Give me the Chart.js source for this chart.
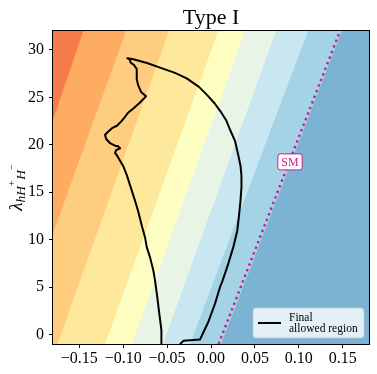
<!DOCTYPE html>
<html>
<head>
<meta charset="utf-8">
<script src="https://cdn.jsdelivr.net/npm/chart.js@4/dist/chart.umd.min.js"></script>
<style>
  html, body { margin: 0; padding: 0; background: #fff; }
  canvas { display: block; }
</style>
</head>
<body>
<canvas id="c" width="377" height="374"></canvas>
<script>
// ---------- data ----------
const chartTitle = 'Type I';
const xMin = -0.18, xMax = 0.18;
const yMin = -1, yMax = 32;

const xTickValues = [-0.15, -0.10, -0.05, 0.00, 0.05, 0.10, 0.15];
const xTickLabels = ['\u22120.15', '\u22120.10', '\u22120.05', '0.00', '0.05', '0.10', '0.15'];
const yTickValues = [0, 5, 10, 15, 20, 25, 30];
const yTickLabels = ['0', '5', '10', '15', '20', '25', '30'];

// contour band boundaries: x at y = yMax (top) and at y = yMin (bottom)
const bandTopX    = [-0.1454, -0.0968, -0.0478, 0.0083, 0.0387, 0.0740, 0.1105, 0.1490];
const bandBottomX = [-0.2674, -0.2255, -0.1748, -0.1207, -0.0900, -0.0547, -0.0239, 0.0115];
const bandColors  = ['#f57b4a', '#fdac62', '#fecd80', '#fee89b', '#fefec3',
                     '#e8f5e6', '#c9e7f0', '#a5d3e6', '#7bb3d5'];

// SM line
const smX = [0.0087, 0.1470];
const smY = [-1, 32];
const smLabel = 'SM';
const smLabelX = 0.090, smLabelY = 18.2;

// final allowed region contour
const curveLabel = ['Final', 'allowed region'];
const curveX = [
  -0.0561, -0.0561, -0.0569, -0.0589, -0.0612, -0.0638, -0.0657, -0.0695, -0.0732, -0.0752,
  -0.0786, -0.0826, -0.0866, -0.0917, -0.0957, -0.1002, -0.1036, -0.1076, -0.1093, -0.1082,
  -0.1036, -0.1059, -0.1093, -0.1150, -0.1196, -0.1207, -0.1173, -0.1128, -0.1071, -0.1017,
  -0.0980, -0.0945, -0.0888, -0.0809, -0.0740, -0.0797, -0.0831, -0.0846, -0.0846, -0.0877,
  -0.0915, -0.0923, -0.0953,
  -0.0885, -0.0729, -0.0581, -0.0410, -0.0277, -0.0137, -0.0046, 0.0040, 0.0108, 0.0176,
  0.0222, 0.0273, 0.0308, 0.0336, 0.0347, 0.0347, 0.0336, 0.0319, 0.0300, 0.0254,
  0.0197, 0.0133, 0.0103, 0.0046, -0.0031, -0.0125, -0.0315, -0.0345, -0.0347
];
const curveY = [
  -1.34, -0.95, 0.45, 2.21, 3.95, 5.71, 6.76, 8.16, 9.21, 10.26,
  11.39, 12.86, 14.12, 15.59, 16.75, 17.80, 18.33, 18.96, 19.12, 19.43,
  19.64, 19.85, 19.91, 20.17, 20.64, 21.06, 21.38, 21.75, 22.01, 22.53,
  22.95, 23.38, 23.80, 24.46, 25.11, 25.58, 26.32, 26.95, 28.00, 28.42,
  28.66, 28.95, 29.13,
  29.02, 28.63, 28.14, 27.58, 27.00, 26.11, 25.27, 24.38, 23.53, 22.53,
  21.48, 20.43, 19.03, 17.80, 16.75, 15.52, 14.12, 12.54, 10.97, 9.21,
  7.47, 5.71, 5.01, 3.26, 1.32, -0.53, -0.67, -0.95, -1.34
];

// ---------- build datasets ----------
const FAR = 1; // beyond the axis range, clipped away
const datasets = [];

// background band (left of everything)
datasets.push({
  data: [{x: -FAR, y: yMax}, {x: FAR, y: yMax}, {x: FAR, y: yMin}, {x: -FAR, y: yMin}],
  showLine: true, fill: 'shape', backgroundColor: bandColors[0],
  borderColor: 'rgba(0,0,0,0)', borderWidth: 0, pointRadius: 0, pointHoverRadius: 0,
  order: 100
});
for (let i = 0; i < bandTopX.length; i++) {
  datasets.push({
    data: [{x: bandTopX[i], y: yMax}, {x: FAR, y: yMax}, {x: FAR, y: yMin}, {x: bandBottomX[i], y: yMin}],
    showLine: true, fill: 'shape', backgroundColor: bandColors[i + 1],
    borderColor: 'rgba(0,0,0,0)', borderWidth: 0, pointRadius: 0, pointHoverRadius: 0,
    order: 99 - i
  });
}
const smColor = '#c81d8c';
datasets.push({
  data: smX.map((x, i) => ({x, y: smY[i]})),
  showLine: true, fill: false, borderColor: smColor, borderWidth: 2.4,
  borderDash: [2.4, 3.6], borderCapStyle: 'butt',
  pointRadius: 0, pointHoverRadius: 0, order: 2, clip: 0
});
datasets.push({
  label: curveLabel.join(' '),
  data: curveX.map((x, i) => ({x, y: curveY[i]})),
  showLine: true, fill: false, borderColor: '#000', borderWidth: 2,
  borderJoinStyle: 'round', pointRadius: 0, pointHoverRadius: 0, order: 1, clip: 0,
  tension: 0
});

const serif = '"Liberation Serif", "DejaVu Serif", serif';

function roundRect(ctx, x, y, w, h, r) {
  ctx.beginPath();
  ctx.moveTo(x + r, y);
  ctx.lineTo(x + w - r, y); ctx.arcTo(x + w, y, x + w, y + r, r);
  ctx.lineTo(x + w, y + h - r); ctx.arcTo(x + w, y + h, x + w - r, y + h, r);
  ctx.lineTo(x + r, y + h); ctx.arcTo(x, y + h, x, y + h - r, r);
  ctx.lineTo(x, y + r); ctx.arcTo(x, y, x + r, y, r);
  ctx.closePath();
}

const overlay = {
  id: 'overlay',
  afterDatasetsDraw(chart) {
    const {ctx, chartArea: a, scales: {x, y}} = chart;
    ctx.save();
    // frame
    ctx.strokeStyle = '#000'; ctx.lineWidth = 1;
    ctx.strokeRect(Math.round(a.left) - 0.5, Math.round(a.top) - 0.5,
                   Math.round(a.right - a.left) + 1, Math.round(a.bottom - a.top) + 1);

    // SM label
    const sx = x.getPixelForValue(smLabelX), sy = y.getPixelForValue(smLabelY);
    ctx.font = '12px ' + serif;
    const tw = ctx.measureText(smLabel).width;
    const bw = tw + 7, bh = 16;
    roundRect(ctx, sx - bw / 2, sy - bh / 2, bw, bh, 2.5);
    ctx.fillStyle = '#fff'; ctx.fill();
    ctx.strokeStyle = smColor; ctx.lineWidth = 1; ctx.stroke();
    ctx.fillStyle = smColor; ctx.textAlign = 'center'; ctx.textBaseline = 'middle';
    ctx.fillText(smLabel, sx, sy + 0.5);

    // legend
    const lw = 111, lh = 30;
    const lx = a.right - 5 - lw, ly = a.bottom - 6 - lh;
    roundRect(ctx, lx, ly, lw, lh, 3);
    ctx.fillStyle = 'rgba(255,255,255,0.8)'; ctx.fill();
    ctx.strokeStyle = 'rgba(200,200,200,0.8)'; ctx.lineWidth = 1; ctx.stroke();
    const cy = ly + lh / 2;
    ctx.strokeStyle = '#000'; ctx.lineWidth = 2;
    ctx.beginPath(); ctx.moveTo(lx + 5, cy); ctx.lineTo(lx + 28, cy); ctx.stroke();
    ctx.fillStyle = '#000'; ctx.textAlign = 'left'; ctx.textBaseline = 'alphabetic';
    ctx.font = '11.5px ' + serif;
    ctx.fillText(curveLabel[0], lx + 36, cy - 2);
    ctx.fillText(curveLabel[1], lx + 36, cy + 9);

    // title
    ctx.font = '22px ' + serif;
    ctx.textAlign = 'center';
    ctx.fillText(chartTitle, (a.left + a.right) / 2, 24);

    // y-axis title  λ_{hH^+H^-}
    const parts = [
      {t: '\u03bb', f: 'italic 19px ' + serif, dy: 0},
      {t: 'hH', f: 'italic 13.5px ' + serif, dy: 3.5},
      {t: '+', f: '10px ' + serif, dy: -6.5},
      {t: 'H', f: 'italic 13.5px ' + serif, dy: 3.5},
      {t: '\u2212', f: '10px ' + serif, dy: -6.5}
    ];
    let total = 0;
    for (const p of parts) { ctx.font = p.f; p.w = ctx.measureText(p.t).width + (p.t === '+' ? 0.5 : 0); total += p.w; }
    ctx.translate(21.5, (a.top + a.bottom) / 2);
    ctx.rotate(-Math.PI / 2);
    ctx.textAlign = 'left';
    let px = -total / 2;
    for (const p of parts) { ctx.font = p.f; ctx.fillText(p.t, px, p.dy); px += p.w; }
    ctx.restore();
  }
};

new Chart(document.getElementById('c'), {
  type: 'scatter',
  data: { datasets },
  options: {
    responsive: false,
    devicePixelRatio: 1,
    animation: false,
    events: [],
    layout: { padding: { top: 31, right: 8, bottom: 0, left: 0 } },
    plugins: { legend: { display: false }, title: { display: false }, tooltip: { enabled: false } },
    scales: {
      x: {
        type: 'linear', min: xMin, max: xMax,
        afterBuildTicks: s => { s.ticks = xTickValues.map(v => ({value: v})); },
        afterFit: s => { s.height = 30; },
        ticks: {
          font: { family: serif, size: 16 }, color: '#000', padding: 1, maxRotation: 0,
          callback: (v, i) => xTickLabels[i]
        },
        grid: { drawOnChartArea: false, drawTicks: true, tickLength: 4, color: '#000', tickWidth: 1 },
        border: { display: false }
      },
      y: {
        type: 'linear', min: yMin, max: yMax,
        afterBuildTicks: s => { s.ticks = yTickValues.map(v => ({value: v})); },
        afterFit: s => { s.width = 53; },
        ticks: {
          font: { family: serif, size: 16 }, color: '#000', padding: 5,
          callback: (v, i) => yTickLabels[i]
        },
        grid: { drawOnChartArea: false, drawTicks: true, tickLength: 4, color: '#000', tickWidth: 1 },
        border: { display: false }
      }
    }
  },
  plugins: [overlay]
});
</script>
</body>
</html>
